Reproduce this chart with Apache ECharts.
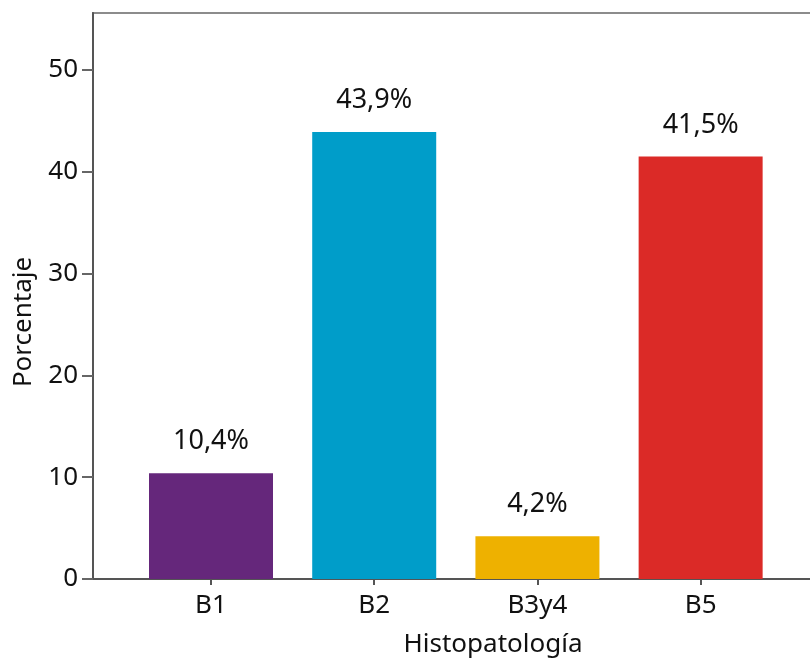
<!DOCTYPE html>
<html>
<head>
<meta charset="utf-8">
<script src="https://cdn.jsdelivr.net/npm/echarts@6/dist/echarts.min.js"></script>
<style>
  html, body { margin: 0; padding: 0; background: #fff; }
  #chart { width: 810px; height: 661px; }
</style>
</head>
<body>
<div id="chart"></div>
<script>
// Histopathology categories and their share (%)
const categories = ['B1', 'B2', 'B3y4', 'B5'];
const values = [10.4, 43.9, 4.2, 41.5];
const barColors = ['#65277B', '#009DC9', '#EEB100', '#DB2A27'];
const yTicks = [0, 10, 20, 30, 40, 50];
const xTitle = 'Histopatología';
const yTitle = 'Porcentaje';

const FONT = '"Noto Sans", sans-serif';
const chart = echarts.init(document.getElementById('chart'), null, { renderer: 'canvas' });

const catPositions = categories.map((c, i) => i + 1);

chart.setOption({
  animation: false,
  backgroundColor: '#ffffff',
  grid: {
    // the plot frame runs past the right edge of the canvas
    left: 93, top: 13, width: 740, bottom: 82,
    outerBoundsMode: 'none',
    containLabel: false,
    show: true, borderColor: '#8c8c8c', borderWidth: 2, backgroundColor: 'transparent'
  },
  xAxis: {
    type: 'value',
    min: 0.277, max: 4.811,
    splitLine: { show: false },
    axisLine: { show: true, onZero: false, lineStyle: { color: '#555', width: 2 } },
    axisTick: { show: true, length: 6, customValues: catPositions, lineStyle: { color: '#555', width: 2 } },
    axisLabel: {
      customValues: catPositions,
      formatter: v => categories[Math.round(v) - 1] || '',
      margin: 14, color: '#111', fontSize: 26, fontFamily: FONT
    }
  },
  yAxis: {
    type: 'value',
    min: 0, max: 55.6, interval: 10,
    splitLine: { show: false },
    axisLine: { show: true, lineStyle: { color: '#555', width: 2 } },
    axisTick: { show: true, length: 11, customValues: yTicks, lineStyle: { color: '#666', width: 2 } },
    axisLabel: {
      customValues: yTicks,
      margin: 15, color: '#111', fontSize: 26, fontFamily: FONT
    }
  },
  series: [{
    type: 'bar',
    barWidth: 124,
    data: categories.map((c, i) => ({
      value: [catPositions[i], values[i]],
      itemStyle: { color: barColors[i] }
    })),
    label: {
      show: true, position: 'top', distance: 18,
      formatter: p => String(p.value[1]).replace('.', ',') + '%',
      color: '#111', fontSize: 27, fontFamily: FONT
    }
  }],
  graphic: [
    {
      type: 'text', x: 493, y: 645,
      style: { text: xTitle, fill: '#111', font: '26px ' + FONT, textAlign: 'center', textVerticalAlign: 'middle' }
    },
    {
      type: 'text', x: 24, y: 322, rotation: Math.PI / 2,
      style: { text: yTitle, fill: '#111', font: '26px ' + FONT, textAlign: 'center', textVerticalAlign: 'middle' }
    }
  ]
});
</script>
</body>
</html>
